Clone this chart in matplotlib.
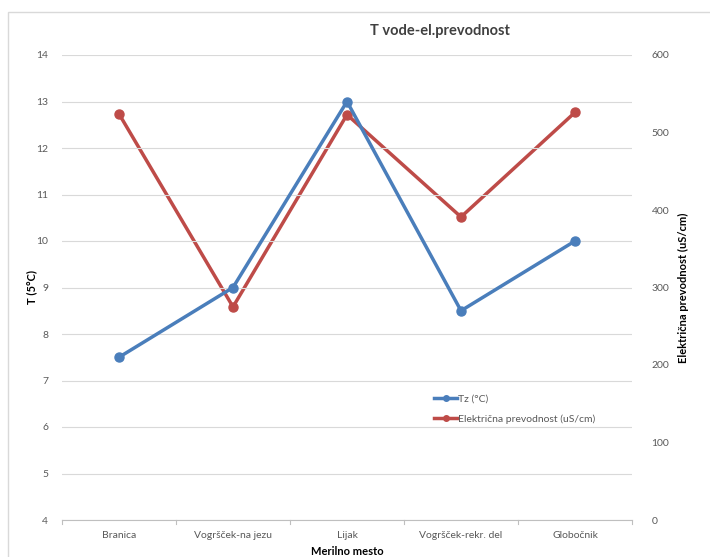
import matplotlib.pyplot as plt
from matplotlib.patches import Rectangle
from matplotlib.lines import Line2D

plt.rcParams["font.family"] = ["Lato", "DejaVu Sans"]

# Measuring sites and measured values
sites = ["Branica", "Vogršček-na jezu", "Lijak", "Vogršček-rekr. del", "Globočnik"]
temperature = [7.5, 9.0, 13.0, 8.5, 10.0]
conductivity = [524, 275, 523, 391, 526]

BLUE = "#4a7ebb"
RED = "#be4b48"
GRAY = "#595959"
GRID = "#d9d9d9"

fig = plt.figure(figsize=(7.10, 5.57), dpi=100)

# light outer frame of the chart area
fig.patches.append(Rectangle((8 / 710, -0.05), 1.0, 1 - 12 / 557 + 0.05,
                             transform=fig.transFigure, fill=False,
                             edgecolor="#d9d9d9", linewidth=1.0))

ax1 = fig.add_axes([62 / 710, 1 - 520 / 557, (632 - 62) / 710, (520 - 55) / 557])
ax2 = ax1.twinx()

x = list(range(len(sites)))

ax1.plot(x, temperature, color=BLUE, linewidth=2.5, marker="o", markersize=6.5,
         label="Tz (°C)", zorder=3, solid_capstyle="round")
ax2.plot(x, conductivity, color=RED, linewidth=2.5, marker="o", markersize=6.5,
         label="Električna prevodnost (uS/cm)", zorder=3, solid_capstyle="round")

ax1.set_xlim(-0.5, len(sites) - 0.5)
ax1.set_ylim(4, 14)
ax2.set_ylim(0, 600)
ax1.set_yticks(range(4, 15))
ax2.set_yticks(range(0, 601, 100))
ax1.set_xticks(x)
ax1.set_xticklabels(sites)

ax1.yaxis.grid(True, color=GRID, linewidth=0.8)
ax1.set_axisbelow(True)

for a in (ax1, ax2):
    for s in a.spines.values():
        s.set_visible(False)
    a.tick_params(axis="y", length=0, colors=GRAY, labelsize=7.5)

ax1.tick_params(axis="y", pad=10)
ax2.tick_params(axis="y", pad=14)
ax1.spines["bottom"].set_visible(True)
ax1.spines["bottom"].set_color("#bfbfbf")
ax1.tick_params(axis="x", length=0, colors=GRAY, labelsize=7.5, pad=8)

# category separator ticks on the x axis
for b in [i - 0.5 for i in range(len(sites) + 1)]:
    ax1.plot([b, b], [4, 4 - 0.09], color="#bfbfbf", linewidth=0.8,
             clip_on=False, zorder=1)

# draw the blue line above the red one
ax1.set_zorder(ax2.get_zorder() + 1)
ax1.patch.set_visible(False)

ax1.set_ylabel("T (5°C)", fontsize=8, fontweight="bold", color="black", labelpad=-1)
ax2.set_ylabel("Električna prevodnost (uS/cm)", fontsize=8, fontweight="bold",
               color="black", labelpad=6)
ax1.set_xlabel("Merilno mesto", fontsize=8, fontweight="bold", color="black", labelpad=4)

fig.text(440 / 710, 1 - 31 / 557, "T vode-el.prevodnost", ha="center", va="center",
         fontsize=10.5, fontweight="bold", color="#404040")

handles = [Line2D([], [], color=BLUE, linewidth=2.5, marker="o", markersize=4),
           Line2D([], [], color=RED, linewidth=2.5, marker="o", markersize=4)]
fig.legend(handles, ["Tz (°C)", "Električna prevodnost (uS/cm)"],
           loc="upper left", bbox_to_anchor=(425 / 710, 1 - 385 / 557),
           frameon=False, fontsize=7.5, handlelength=2.2, handletextpad=0.1,
           labelspacing=1.0, labelcolor=GRAY)

plt.savefig("out.png", dpi=100)
